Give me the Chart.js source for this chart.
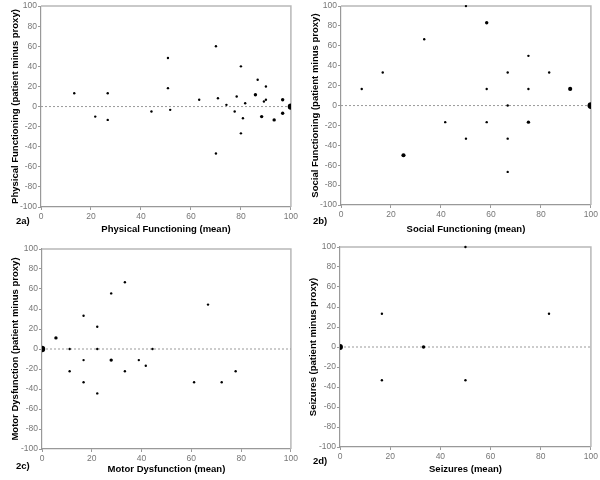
<!DOCTYPE html>
<html>
<head>
<meta charset="utf-8">
<script src="https://cdn.jsdelivr.net/npm/chart.js@4.4.1/dist/chart.umd.min.js"></script>
<style>
    body { margin: 0; background: #fff; }
    #wrap { position: relative; width: 600px; height: 480px; overflow: hidden; }
    .panel { position: absolute; width: 300px; height: 240px; }
    .tag { position: absolute; font: bold 9.5px "Liberation Sans", Arial, sans-serif; color: #000; }
</style>
</head>
<body>
<div id="wrap">
    <div class="panel" style="left:0;top:0"><canvas id="pfChart" width="300" height="240"></canvas></div>
    <div class="panel" style="left:300px;top:0"><canvas id="sfChart" width="300" height="240"></canvas></div>
    <div class="panel" style="left:0;top:240px"><canvas id="mdChart" width="300" height="240"></canvas></div>
    <div class="panel" style="left:300px;top:240px"><canvas id="szChart" width="300" height="240"></canvas></div>
    <div class="tag" style="left:16px;top:215px">2a)</div>
    <div class="tag" style="left:313px;top:215px">2b)</div>
    <div class="tag" style="left:16px;top:460px">2c)</div>
    <div class="tag" style="left:313px;top:455px">2d)</div>
</div>
<script>
// Bland-Altman style plots: mean score vs. patient minus proxy difference

// 2a) Physical Functioning
const pfMean = [13.3, 21.7, 26.7, 26.7, 44.2, 50.8, 50.8, 51.7, 63.3, 70, 70, 70.8, 74.2, 77.5, 78.3, 80, 80, 80.8, 81.7, 85.8, 86.7, 88.3, 89.2, 90, 90, 93.3, 96.7, 96.7, 100];
const pfDiff = [13.3, -10, 13.3, -13.3, -5, 48.3, 18.3, -3.3, 6.7, 60, -46.7, 8.3, 1.7, -5, 10, 40, -26.7, -11.7, 3.3, 11.7, 26.7, -10, 5, 20, 6.7, -13.3, 6.7, -6.7, 0];
const pfCount = [1, 1, 1, 1, 1, 1, 1, 1, 1, 1, 1, 1, 1, 1, 1, 1, 1, 1, 1, 2, 1, 2, 1, 1, 1, 2, 2, 2, 7];

// 2b) Social Functioning
const sfMean = [8.3, 16.7, 25, 33.3, 41.7, 50, 50, 58.3, 58.3, 58.3, 66.7, 66.7, 66.7, 66.7, 75, 75, 75, 83.3, 91.7, 100];
const sfDiff = [16.7, 33.3, -50, 66.7, -16.7, 100, -33.3, 83.3, 16.7, -16.7, 33.3, 0, -33.3, -66.7, 50, 16.7, -16.7, 33.3, 16.7, 0];
const sfCount = [1, 1, 3, 1, 1, 1, 1, 2, 1, 1, 1, 1, 1, 1, 1, 1, 2, 1, 3, 8];

// 2c) Motor Dysfunction
const mdMean = [0, 5.6, 11.1, 11.1, 16.7, 16.7, 16.7, 22.2, 22.2, 22.2, 27.8, 27.8, 33.3, 33.3, 38.9, 41.7, 44.4, 61.1, 66.7, 72.2, 77.8];
const mdDiff = [0, 11.1, 0, -22.2, 33.3, -11.1, -33.3, 22.2, 0, -44.4, 55.6, -11.1, 66.7, -22.2, -11.1, -16.7, 0, -33.3, 44.4, -33.3, -22.2];
const mdCount = [7, 2, 1, 1, 1, 1, 1, 1, 1, 1, 1, 2, 1, 1, 1, 1, 1, 1, 1, 1, 1];

// 2d) Seizures
const szMean = [0, 16.7, 16.7, 33.3, 50, 50, 83.3];
const szDiff = [0, 33.3, -33.3, 0, 100, -33.3, 33.3];
const szCount = [6, 1, 1, 2, 1, 1, 1];

// Axis range / ticks
const axisMin = -100, axisMax = 100, axisStep = 20;
const xMin = 0, xMax = 100;

const FONT = '"Liberation Sans", Arial, sans-serif';

// light grey box on top and right of the plot area (under the dots)
const framePlugin = {
    id: 'frame',
    beforeDatasetsDraw(chart) {
        const { ctx, chartArea: a } = chart;
        ctx.save();
        ctx.strokeStyle = '#b8b8b8';
        ctx.lineWidth = 1.5;
        ctx.beginPath();
        ctx.moveTo(a.left, a.top);
        ctx.lineTo(a.right, a.top);
        ctx.lineTo(a.right, a.bottom);
        ctx.stroke();
        ctx.restore();
    }
};

function makePanel(id, name, means, diffs, counts, lay) {
    const ctx = document.getElementById(id).getContext('2d');
    return new Chart(ctx, {
        type: 'scatter',
        data: {
            datasets: [
                {
                    data: means.map((m, i) => ({ x: m, y: diffs[i] })),
                    pointRadius: counts.map(n => 1.2 * Math.sqrt(n)),
                    pointBackgroundColor: '#000',
                    pointBorderWidth: 0,
                    clip: { left: 0, right: 0, top: 3, bottom: 0 },
                    order: 1
                },
                {
                    type: 'line',
                    data: [{ x: xMin, y: 0 }, { x: xMax, y: 0 }],
                    borderColor: '#9a9a9a',
                    borderWidth: 1,
                    borderDash: [2, 2],
                    pointRadius: 0,
                    order: 2
                }
            ]
        },
        options: {
            responsive: false,
            animation: false,
            events: [],
            layout: { padding: { top: lay.top, left: 0, right: 0, bottom: 0 } },
            plugins: { legend: { display: false }, tooltip: { enabled: false } },
            scales: {
                x: {
                    type: 'linear',
                    min: xMin,
                    max: xMax,
                    ticks: { stepSize: 20, color: '#777', font: { size: 8.5, family: FONT }, padding: 2, maxRotation: 0 },
                    grid: { drawOnChartArea: false, drawTicks: true, tickLength: 3, color: '#999' },
                    border: { color: '#999', width: 1.2 },
                    title: {
                        display: true,
                        text: name + ' (mean)',
                        color: '#000',
                        font: { size: 9.5, weight: 'bold', family: FONT },
                        padding: { top: 0, bottom: 5 }
                    },
                    afterFit(scale) { scale.height = lay.xh; }
                },
                y: {
                    type: 'linear',
                    min: axisMin,
                    max: axisMax,
                    ticks: { stepSize: axisStep, color: '#777', font: { size: 8.5, family: FONT }, padding: 1 },
                    grid: { drawOnChartArea: false, drawTicks: true, tickLength: 3, color: '#999' },
                    border: { color: '#999', width: 1.2 },
                    title: {
                        display: true,
                        text: name + ' (patient minus proxy)',
                        color: '#000',
                        font: { size: 9.5, weight: 'bold', family: FONT },
                        padding: { top: lay.yt, bottom: 0 }
                    },
                    afterFit(scale) { scale.width = lay.yw; }
                }
            }
        },
        plugins: [framePlugin]
    });
}

makePanel('pfChart', 'Physical Functioning', pfMean, pfDiff, pfCount, { top: 6, xh: 33, yw: 41, yt: 10 });
makePanel('sfChart', 'Social Functioning', sfMean, sfDiff, sfCount, { top: 5, xh: 35, yw: 41, yt: 10 });
makePanel('mdChart', 'Motor Dysfunction', mdMean, mdDiff, mdCount, { top: 9, xh: 31, yw: 42, yt: 10 });
makePanel('szChart', 'Seizures', szMean, szDiff, szCount, { top: 7, xh: 33, yw: 40, yt: 8 });
</script>
</body>
</html>
